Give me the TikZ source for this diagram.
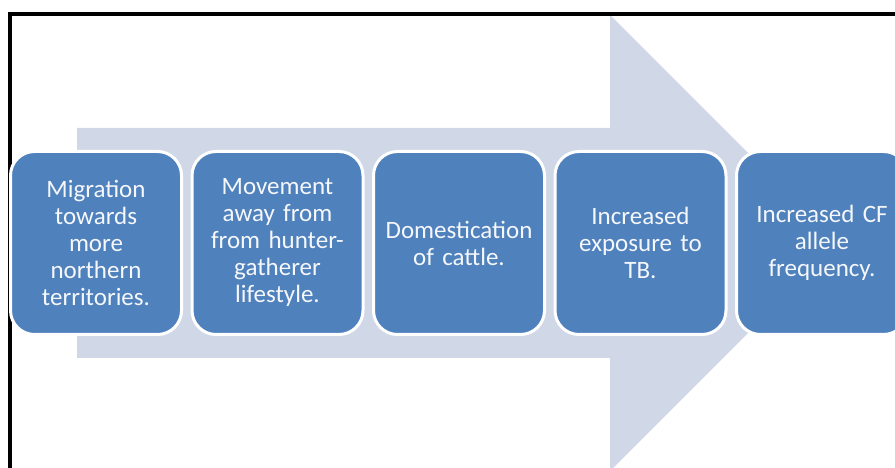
\documentclass[tikz,border=0pt]{standalone}
\usepackage{fontspec}
\setmainfont{Carlito}
\usepackage{tikz}

\definecolor{stepblue}{HTML}{4F81BD}
\definecolor{arrowgrey}{HTML}{D0D8E8}

\begin{document}
\begin{tikzpicture}[x=1pt,y=1pt,
  stepbox/.style={rectangle,rounded corners=24pt,draw=white,line width=3pt,fill=stepblue,
    minimum width=171pt,minimum height=183pt,text width=160pt,align=center,
    text=white!94!stepblue,font=\fontsize{25}{27}\selectfont}]
  \useasboundingbox (0,0) rectangle (895,468);
  \begin{scope}
  \clip (0,0) rectangle (895,468);
  % big background arrow
  \fill[arrowgrey] (77,110) -- (610,110) -- (610,-3) -- (838,225) -- (610,453) -- (610,340) -- (77,340) -- cycle;
  % frame
  \draw[line width=4pt] (10,-10) -- (10,454) -- (905,454);
  \node[stepbox] (s1) at (96,225) {Migration\\towards\\more\\northern\\territories.};
  \node[stepbox] (s2) at (277.5,225) {Movement\\away from\\from hunter-\\gatherer\\lifestyle.};
  \node[stepbox] (s3) at (459,225) {Domestication\\of cattle.};
  \node[stepbox] (s4) at (640.5,225) {Increased\\exposure to\\TB.};
  \node[stepbox] (s5) at (822,225) {Increased CF\\allele\\frequency.};
  \end{scope}
\end{tikzpicture}
\end{document}
